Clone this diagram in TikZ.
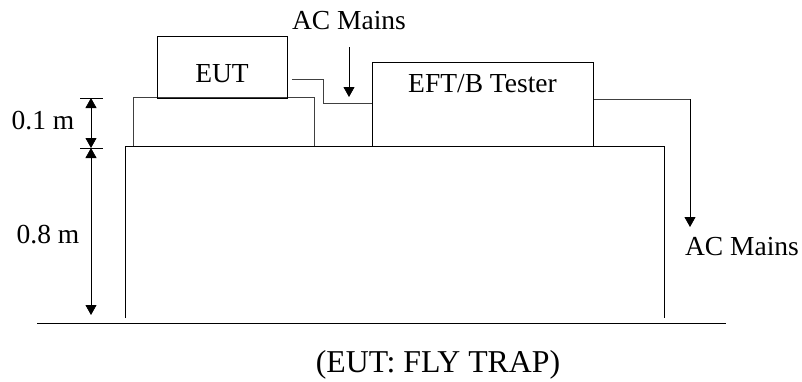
\documentclass[tikz,border=0pt]{standalone}
\usepackage{fontspec}
\setmainfont{Liberation Serif}
\usetikzlibrary{arrows.meta,calc}
\begin{document}
\begin{tikzpicture}[x=1pt,y=-1pt,
  line width=0.8pt,
  lbl/.style={font=\fontsize{27.5}{30}\selectfont, inner sep=0pt, anchor=base},
  biglbl/.style={font=\fontsize{31.8}{34}\selectfont, inner sep=0pt, anchor=base},
  unit/.style={draw, inner sep=0pt, anchor=north west},
  feed/.style={-{Triangle[width=11pt,length=10pt]}},
  dimline/.style={{Triangle[width=11pt,length=10pt]}-{Triangle[width=11pt,length=10pt]}},
  cable/.style={draw=black!75}]
\useasboundingbox (0,0) rectangle (802,381);

% floor
\coordinate (fl) at (37,323);
\coordinate (fr) at (726,323);
\draw (fl) -- (fr);

% table (0.8 m)
\draw (125,318) -- (125,146) -- (664,146) -- (664,318);

% raised support (0.1 m)
\draw[cable] (133,146) -- (133,97) -- (314,97) -- (314,146);

% equipment
\node[unit, minimum width=130pt, minimum height=62pt] (eut) at (157,36) {};
\node[lbl] at (222,82) {EUT};
\node[unit, minimum width=221pt, minimum height=84pt] (eft) at (372,62) {};
\node[lbl] at (482.5,92) {EFT/B Tester};

% EUT to tester cable
\coordinate (c1) at ($(eut.north east)+(4,43)$);
\coordinate (c2) at (323,79);
\coordinate (c3) at (323,103);
\draw[cable] (c1) -- (c2) -- (c3) -- (c3 -| eft.west);

% mains supply into the tester
\node[lbl] (acin) at (349,29) {AC Mains};
\coordinate (ain) at (349,47);
\coordinate (aout) at (349,97);
\draw[feed] (ain) -- (aout);

% mains output of the tester
\coordinate (m1) at ($(eft.north east)+(0,37)$);
\coordinate (m2) at (690,99);
\coordinate (m3) at (690,227);
\draw[cable] (m1) -- (m2);
\draw[feed] (m2) -- (m3);
\node[lbl] (acout) at (742,255) {AC Mains};

% dimensions
\coordinate (t1) at (91,98);
\coordinate (t2) at (91,148);
\coordinate (t3) at (91,315);
\draw (80,98) -- (103,98);
\draw (80,148) -- (103,148);
\draw[dimline] (t1) -- (t2);
\draw[dimline] (t2) -- (t3);
\node[lbl] (d1) at (43,129) {0.1 m};
\node[lbl] (d2) at (48,243) {0.8 m};

% caption
\node[biglbl] (cap) at (438,372.5) {(EUT: FLY TRAP)};
\end{tikzpicture}
\end{document}
